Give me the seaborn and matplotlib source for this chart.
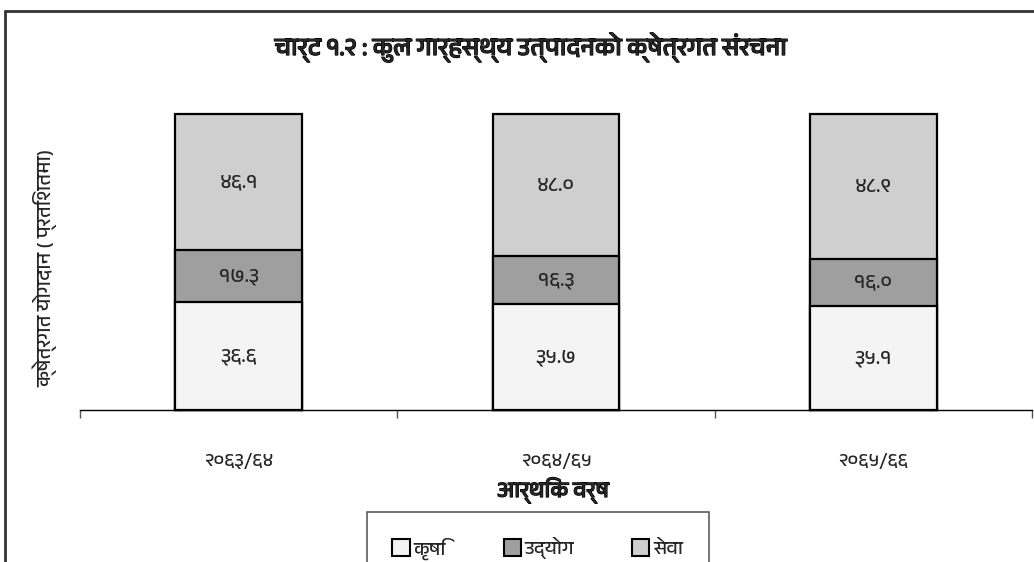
import matplotlib
matplotlib.use("Agg")
import matplotlib.pyplot as plt
import matplotlib.patheffects as pe
import seaborn as sns
import pandas as pd
from matplotlib import font_manager, ft2font
from matplotlib.patches import Patch
from matplotlib.lines import Line2D

years = ["२०६३/६४", "२०६४/६५", "२०६५/६६"]
sectors = ["कृषि", "उद्योग", "सेवा"]
krishi = [36.6, 35.7, 35.1]
udyog = [17.3, 16.3, 16.0]
sewa = [46.1, 48.0, 48.9]
colors = ["#f4f4f4", "#9f9f9f", "#cfcfcf"]

title = "चार्ट १.२ : कुल गार्हस्थ्य उत्पादनको क्षेत्रगत संरचना"
ylabel = "क्षेत्रगत योगदान ( प्रतिशतमा)"
xlabel = "आर्थिक वर्ष"


def find_devanagari():
    # look for any installed font that has Devanagari glyphs
    fonts = sorted(font_manager.fontManager.ttflist,
                   key=lambda f: "Devanagari" not in f.name)
    for f in fonts:
        try:
            if 0x0915 in ft2font.FT2Font(f.fname).get_charmap():
                return f.name
        except Exception:
            pass
    return "DejaVu Sans"


sns.set_style("white")
plt.rcParams["font.family"] = [find_devanagari(), "DejaVu Sans"]

dev_digits = str.maketrans("0123456789", "०१२३४५६७८९")
bold = [pe.withStroke(linewidth=0.9, foreground="black")]

df = pd.DataFrame({"year": years, "krishi": krishi, "udyog": udyog, "sewa": sewa})
df["c1"] = df["krishi"]
df["c2"] = df["krishi"] + df["udyog"]
df["c3"] = df["c2"] + df["sewa"]

fig = plt.figure(figsize=(10.34, 5.62), dpi=100)
ax = fig.add_axes([80 / 1034, 1 - 410 / 562, 952 / 1034, 296 / 562])

for col, c in zip(["c3", "c2", "c1"], colors[::-1]):
    sns.barplot(data=df, x="year", y=col, color=c, width=0.4,
                edgecolor="black", linewidth=1.6, ax=ax, zorder=3)
for p in ax.patches:
    p.set_clip_on(False)

# labels in the middle of each segment
for i in range(len(years)):
    bottoms = [0, df["c1"][i], df["c2"][i]]
    vals = [krishi[i], udyog[i], sewa[i]]
    for b, v in zip(bottoms, vals):
        ax.text(i, b + v / 2, f"{v:.1f}".translate(dev_digits),
                ha="center", va="center", fontsize=15, zorder=4)

ax.set_xlim(-0.5, 2.5)
ax.set_ylim(0, 100)
ax.set_ylabel("")
ax.set_xlabel("")
ax.set_yticks([])
for s in ["top", "right", "left"]:
    ax.spines[s].set_visible(False)
ax.spines["bottom"].set_color("black")
ax.spines["bottom"].set_linewidth(1.0)
ax.set_xticks([-0.5, 0.5, 1.5, 2.5])
ax.set_xticklabels([])
ax.set_xticks([0, 1, 2], minor=True)
ax.set_xticklabels(years, minor=True, fontsize=14)
ax.tick_params(axis="x", which="major", direction="out", length=6,
               width=1, color="#555555", bottom=True)
ax.tick_params(axis="x", which="minor", length=0, pad=31)

fig.text(530 / 1034, 1 - 47 / 562, title, ha="center", va="center",
         fontsize=18, fontweight="bold", path_effects=bold)
fig.text(553 / 1034, 1 - 490 / 562, xlabel, ha="center", va="center",
         fontsize=16, fontweight="bold", path_effects=bold)
fig.text(45 / 1034, 1 - 268 / 562, ylabel, ha="center", va="center",
         rotation=90, fontsize=14.5)

handles = [Patch(facecolor=c, edgecolor="black", linewidth=1.5) for c in colors]
leg = fig.legend(handles, sectors, loc="upper left",
                 bbox_to_anchor=(367 / 1034, 1 - 512 / 562), ncol=3,
                 frameon=True, fancybox=False, fontsize=14,
                 handlelength=0.9, handleheight=0.9, handletextpad=0.2,
                 columnspacing=2.95, borderpad=1.3, borderaxespad=0)
leg.get_frame().set_edgecolor("#333333")
leg.get_frame().set_linewidth(1.2)

# outer border of the picture (top and left only are visible)
fig.add_artist(Line2D([5 / 1034, 1], [1 - 11 / 562, 1 - 11 / 562],
                      color="#333333", linewidth=2, transform=fig.transFigure))
fig.add_artist(Line2D([5 / 1034, 5 / 1034], [0, 1 - 11 / 562],
                      color="#333333", linewidth=2, transform=fig.transFigure))

fig.savefig("out.png", dpi=100)
